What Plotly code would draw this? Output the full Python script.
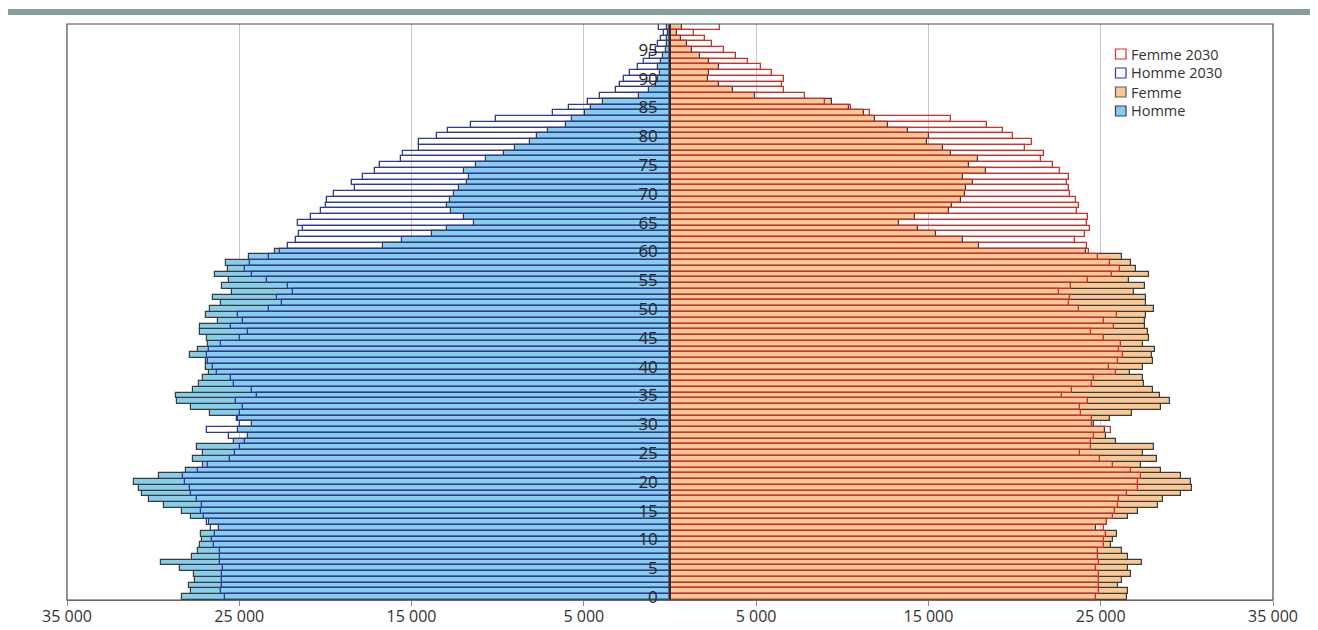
import plotly.graph_objects as go

ages = list(range(100))

homme = [28354, 27775, 27948, 27562, 27601, 28470, 29570, 27755, 27369, 27254,
         27177, 27234, 26173, 26732, 27775, 28315, 29377, 30264, 30670, 30843,
         31133, 29685, 28122, 27080, 27697, 27080, 27427, 25324, 24474, 25053,
         24243, 25053, 26713, 27794, 28643, 28682, 27659, 27312, 27099, 26732,
         26906, 26926, 27871, 27369, 26790, 26887, 27254, 27292, 26212, 26926,
         26675, 26038, 26501, 25401, 25999, 25575, 26385, 25671, 25787, 24417,
         22913, 16658, 15539, 13821, 12933, 11370, 11968, 12721, 12933, 12779,
         12547, 12258, 11775, 11659, 11968, 11273, 10656, 9652, 8996, 8147,
         7722, 7085, 6062, 5715, 4924, 4557, 3862, 1778, 1218, 813,
         677, 581, 677, 504, 427, 234, 195, 156, 118, 195]

homme_2030 = [25825, 26057, 25980, 26019, 26019, 25960, 26096, 26134, 26096, 26443,
              26598, 26424, 26617, 26848, 27022, 27215, 27157, 27447, 27794, 27871,
              28180, 28277, 27408, 26790, 25555, 25227, 24938, 24648, 25575, 26848,
              24957, 25111, 24938, 24764, 25169, 23953, 24262, 25285, 25459, 26308,
              26520, 26790, 26868, 26732, 26057, 24957, 24513, 25459, 24764, 25053,
              23278, 22544, 22796, 21869, 22158, 23413, 24262, 24668, 24358, 23278,
              22623, 22158, 21695, 21522, 21290, 21579, 20827, 20286, 19939, 19881,
              19495, 18279, 18434, 17797, 17102, 16812, 15596, 15500, 14593, 14554,
              13512, 12875, 11543, 10096, 6815, 5869, 4788, 4036, 3148, 2916,
              2685, 2318, 1874, 1527, 1160, 813, 677, 523, 330, 638]

femme = [26539, 26558, 25979, 26230, 26751, 26596, 27368, 26577, 26230, 25593,
         25709, 25921, 24744, 25342, 26596, 27137, 28333, 28604, 29646, 30283,
         30244, 29665, 28488, 27311, 28276, 27465, 28102, 25863, 25322, 25226,
         24628, 25516, 26828, 28507, 29028, 28449, 28044, 27484, 27446, 26693,
         27465, 28044, 28005, 28140, 27446, 27793, 27735, 27581, 27581, 27639,
         28083, 27639, 27619, 26944, 27581, 26635, 27812, 27060, 26770, 26250,
         24163, 17938, 17010, 15464, 14420, 13299, 14227, 16199, 16392, 16914,
         17146, 17204, 17610, 17010, 18344, 17378, 17880, 16295, 15851, 14942,
         15039, 13821, 12642, 11907, 11289, 10400, 9414, 4929, 3673, 2822,
         2223, 2281, 2861, 2242, 1720, 1295, 967, 619, 425, 715]

femme_2030 = [24705, 24917, 24898, 24898, 24898, 24724, 24917, 24859, 24859, 25207,
              25207, 25284, 25207, 25381, 25709, 25805, 26017, 26056, 26539, 27156,
              27137, 27349, 26732, 25709, 24975, 23817, 24435, 24454, 24628, 25612,
              24512, 24512, 23875, 23798, 24280, 22775, 23354, 24512, 24609, 25863,
              25477, 25979, 26288, 26056, 26191, 25188, 24416, 25747, 25168, 25921,
              23759, 23161, 23219, 22582, 23277, 24242, 25631, 26133, 25516, 24859,
              24298, 24201, 23525, 24105, 24356, 24220, 24278, 23621, 23737, 23563,
              23235, 23157, 23022, 23177, 22655, 22230, 21514, 21708, 20606, 21012,
              19929, 19311, 18421, 16295, 11598, 10480, 9008, 7829, 6611, 6495,
              6611, 5896, 5277, 4543, 3808, 3151, 2416, 2049, 1411, 2900]

x_tickvals = [-35000, -25000, -15000, -5000, 5000, 15000, 25000, 35000]
x_ticktext = ["35 000", "25 000", "15 000", "5 000", "5 000", "15 000", "25 000", "35 000"]
age_ticks = list(range(0, 100, 5))

legend_names = ["Femme 2030", "Homme 2030", "Femme", "Homme"]
legend_fill = ["white", "white", "#F8C897", "#87CDEC"]
legend_line = ["#C8332E", "#2E3A94", "#5A5A5A", "#3A3A5A"]

fig = go.Figure()
fig.add_trace(go.Bar(name="Homme", y=ages, x=[-v for v in homme], orientation="h",
                     marker=dict(color="#87CDEC", line=dict(color="#3A3A3A", width=1.2))))
fig.add_trace(go.Bar(name="Femme", y=ages, x=femme, orientation="h",
                     marker=dict(color="#F8C897", line=dict(color="#3A3A3A", width=1.2))))
fig.add_trace(go.Bar(name="Homme 2030", y=ages, x=[-v for v in homme_2030], orientation="h",
                     marker=dict(color="rgba(0,0,0,0)", line=dict(color="#2E3A94", width=1.3))))
fig.add_trace(go.Bar(name="Femme 2030", y=ages, x=femme_2030, orientation="h",
                     marker=dict(color="rgba(0,0,0,0)", line=dict(color="#C8332E", width=1.3))))

# page body has an 8px margin; work in target (screen) pixels and convert
OFF = 8
W, H = 1318 - OFF, 630 - OFF
px_left, px_right, px_top, px_bottom = 67, 1273, 24, 600
L = px_left - OFF
R = W - (px_right - OFF)
T = px_top - OFF
B = H - (px_bottom - OFF)
pw, ph = W - L - R, H - T - B

def xp(sx):
    return (sx - px_left) / pw

def yp(sy):
    return 1 - (sy - px_top) / ph

shapes = [
    dict(type="rect", xref="paper", yref="paper", x0=0, x1=1, y0=0, y1=1,
         line=dict(color="#4A4A4A", width=1.2), fillcolor="rgba(0,0,0,0)", layer="above"),
    dict(type="rect", xref="paper", yref="paper",
         x0=xp(8), x1=xp(1318), y0=yp(15), y1=yp(9),
         line=dict(width=0), fillcolor="#879D9B", layer="above"),
]
annotations = []
for i, name in enumerate(legend_names):
    cy = 54 + 19 * i
    shapes.append(dict(type="rect", xref="paper", yref="paper",
                       x0=xp(1115.5), x1=xp(1126), y0=yp(cy + 5), y1=yp(cy - 5),
                       line=dict(color=legend_line[i], width=1.2),
                       fillcolor=legend_fill[i], layer="above"))
    annotations.append(dict(xref="paper", yref="paper", x=xp(1129), y=yp(cy),
                            xanchor="left", yanchor="middle", showarrow=False,
                            text=name, font=dict(size=14.5, color="#333333")))

fig.update_layout(
    width=W, height=H,
    margin=dict(l=L, r=R, t=T, b=B, autoexpand=False),
    barmode="overlay", bargap=0,
    plot_bgcolor="white", paper_bgcolor="white",
    font=dict(family="Open Sans", color="#333333"),
    showlegend=False,
    xaxis=dict(range=[-35000, 35000], tickvals=x_tickvals, ticktext=x_ticktext,
               ticks="outside", ticklen=5, tickcolor="#888888", automargin=False,
               ticklabelstandoff=-3,
               showgrid=True, gridcolor="#C8C8C8", gridwidth=1, zeroline=False,
               showline=True, linecolor="#888888", linewidth=1,
               tickfont=dict(size=16, color="#333333")),
    yaxis=dict(range=[-0.5, 99.5], tickvals=age_ticks, ticktext=[str(a) for a in age_ticks],
               anchor="free", position=0.5, side="left", automargin=False,
               showline=True, linecolor="#2B2B2B", linewidth=1.5,
               ticks="", ticklabelstandoff=8, showgrid=False, zeroline=False,
               tickfont=dict(size=17, color="#262626")),
    shapes=shapes,
    annotations=annotations,
)

fig.write_html("out.html")
